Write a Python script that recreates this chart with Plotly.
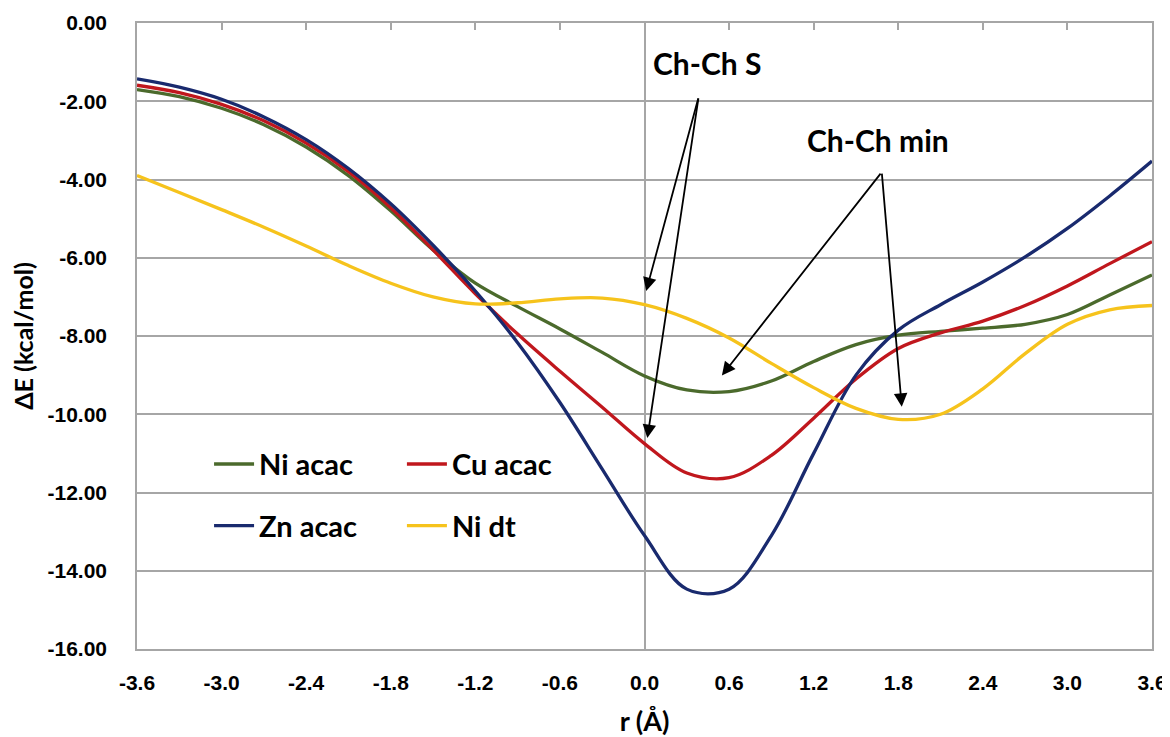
import plotly.graph_objects as go

# ---- data ----
r_values = [-3.6, -3.3, -3.0, -2.7, -2.4, -2.1, -1.8, -1.5, -1.2, -0.9, -0.6, -0.3,
            0.0, 0.3, 0.6, 0.9, 1.2, 1.5, 1.8, 2.1, 2.4, 2.7, 3.0, 3.3, 3.6]

ni_acac = [-1.70, -1.88, -2.18, -2.60, -3.17, -3.90, -4.80, -5.80, -6.65, -7.25, -7.82, -8.42,
           -9.02, -9.38, -9.42, -9.15, -8.65, -8.22, -7.98, -7.88, -7.80, -7.70, -7.45, -6.95, -6.44]
cu_acac = [-1.59, -1.78, -2.08, -2.50, -3.07, -3.80, -4.72, -5.80, -6.92, -7.95, -8.90, -9.82,
           -10.75, -11.50, -11.62, -11.05, -10.10, -9.10, -8.32, -7.92, -7.62, -7.22, -6.72, -6.15, -5.59]
zn_acac = [-1.43, -1.64, -1.95, -2.40, -2.98, -3.72, -4.62, -5.68, -6.85, -8.17, -9.70, -11.40,
           -13.10, -14.47, -14.47, -13.10, -11.00, -9.00, -7.85, -7.20, -6.62, -5.98, -5.25, -4.42, -3.53]
ni_dt = [-3.90, -4.33, -4.77, -5.22, -5.70, -6.20, -6.65, -7.00, -7.18, -7.15, -7.05, -7.03,
         -7.20, -7.55, -8.05, -8.70, -9.32, -9.85, -10.13, -10.00, -9.35, -8.45, -7.70, -7.33, -7.22]

series_names = ["Ni acac", "Cu acac", "Zn acac", "Ni dt"]
x_tick_vals = [-3.6, -3.0, -2.4, -1.8, -1.2, -0.6, 0.0, 0.6, 1.2, 1.8, 2.4, 3.0, 3.6]
x_tick_text = ["-3.6", "-3.0", "-2.4", "-1.8", "-1.2", "-0.6", "0.0", "0.6", "1.2", "1.8", "2.4", "3.0", "3.6"]
y_tick_vals = [0, -2, -4, -6, -8, -10, -12, -14, -16]
y_tick_text = ["0.00", "-2.00", "-4.00", "-6.00", "-8.00", "-10.00", "-12.00", "-14.00", "-16.00"]

colors = {"Ni acac": "#4B6A2C", "Cu acac": "#C0171D", "Zn acac": "#192A6E", "Ni dt": "#F6C31C"}
legend_of = {"Ni acac": "legend", "Zn acac": "legend", "Cu acac": "legend2", "Ni dt": "legend2"}
values = {"Ni acac": ni_acac, "Cu acac": cu_acac, "Zn acac": zn_acac, "Ni dt": ni_dt}

GRID = "#A6A6A6"
TITLE_FONT = dict(family="Lato", size=27, color="black", weight="bold")
TICK_FONT = dict(family="Liberation Sans, Arial", size=21, color="black", weight="bold")

fig = go.Figure()
for name in series_names:
    fig.add_trace(go.Scatter(
        x=r_values, y=values[name], name=name, mode="lines",
        line=dict(color=colors[name], width=3.3, shape="spline", smoothing=1.0),
        legend=legend_of[name], legendgroup=name, showlegend=True,
    ))

# invisible helper trace so the top axis (with its inside ticks) is drawn
fig.add_trace(go.Scatter(x=[r_values[0]], y=[ni_acac[0]], xaxis="x2", mode="markers",
                         marker=dict(opacity=0), showlegend=False, hoverinfo="skip"))

# arrows (tail -> head) and labels
arrow_specs = [
    ((0.384, -1.89), (0.012, -6.85)),
    ((0.384, -1.89), (0.020, -10.61)),
    ((1.683, -3.81), (0.549, -9.01)),
    ((1.683, -3.81), (1.825, -9.81)),
]
annotations = []
for (tx, ty), (hx, hy) in arrow_specs:
    annotations.append(dict(
        x=hx, y=hy, ax=tx, ay=ty, xref="x", yref="y", axref="x", ayref="y",
        text="", showarrow=True, arrowhead=2, arrowsize=1.5, arrowwidth=1.8,
        arrowcolor="black", standoff=0,
    ))
annotations.append(dict(x=0.44, y=-1.03, xref="x", yref="y", text="Ch-Ch S",
                        showarrow=False, font=dict(family="Lato", size=30, color="black", weight="bold")))
annotations.append(dict(x=1.655, y=-2.99, xref="x", yref="y", text="Ch-Ch min",
                        showarrow=False, font=dict(family="Lato", size=30, color="black", weight="bold")))

legend_common = dict(
    font=dict(family="Lato", size=29, color="black", weight="bold"),
    bgcolor="rgba(0,0,0,0)", borderwidth=0, orientation="v",
    tracegroupgap=21, xanchor="left", yanchor="top", itemwidth=40,
)

# the page adds an 8 px body margin, so the figure is 8 px smaller than the window
fig.update_layout(
    width=1162, height=729,
    margin=dict(l=129, r=18, t=15, b=88),
    paper_bgcolor="white", plot_bgcolor="white",
    annotations=annotations,
    legend=dict(x=0.071, y=0.336, **legend_common),
    legend2=dict(x=0.261, y=0.336, **legend_common),
    xaxis=dict(
        range=[-3.6, 3.6], tickvals=x_tick_vals, ticktext=x_tick_text,
        ticks="", showgrid=False, zeroline=True, zerolinecolor=GRID, zerolinewidth=1.5,
        showline=True, linecolor=GRID, linewidth=1.5, mirror=False, automargin=False,
        tickfont=TICK_FONT, ticklabelstandoff=14,
        title=dict(text="r (Å)", font=TITLE_FONT, standoff=19),
    ),
    xaxis2=dict(
        range=[-3.6, 3.6], overlaying="x", side="top", tickvals=x_tick_vals,
        ticks="inside", ticklen=7, tickwidth=1.5, tickcolor=GRID,
        showticklabels=False, showgrid=False, zeroline=False, automargin=False,
        showline=True, linecolor=GRID, linewidth=1.5,
    ),
    yaxis=dict(
        range=[-16, 0], tickvals=y_tick_vals, ticktext=y_tick_text,
        ticks="", showgrid=True, gridcolor=GRID, gridwidth=1.5, zeroline=False,
        showline=True, linecolor=GRID, linewidth=1.5, mirror=True, automargin=False,
        tickfont=TICK_FONT, ticklabelstandoff=24,
        title=dict(text="ΔE (kcal/mol)", font=dict(family="Lato", size=25, color="black", weight="bold"), standoff=12),
    ),
)

fig.write_html("out.html")
